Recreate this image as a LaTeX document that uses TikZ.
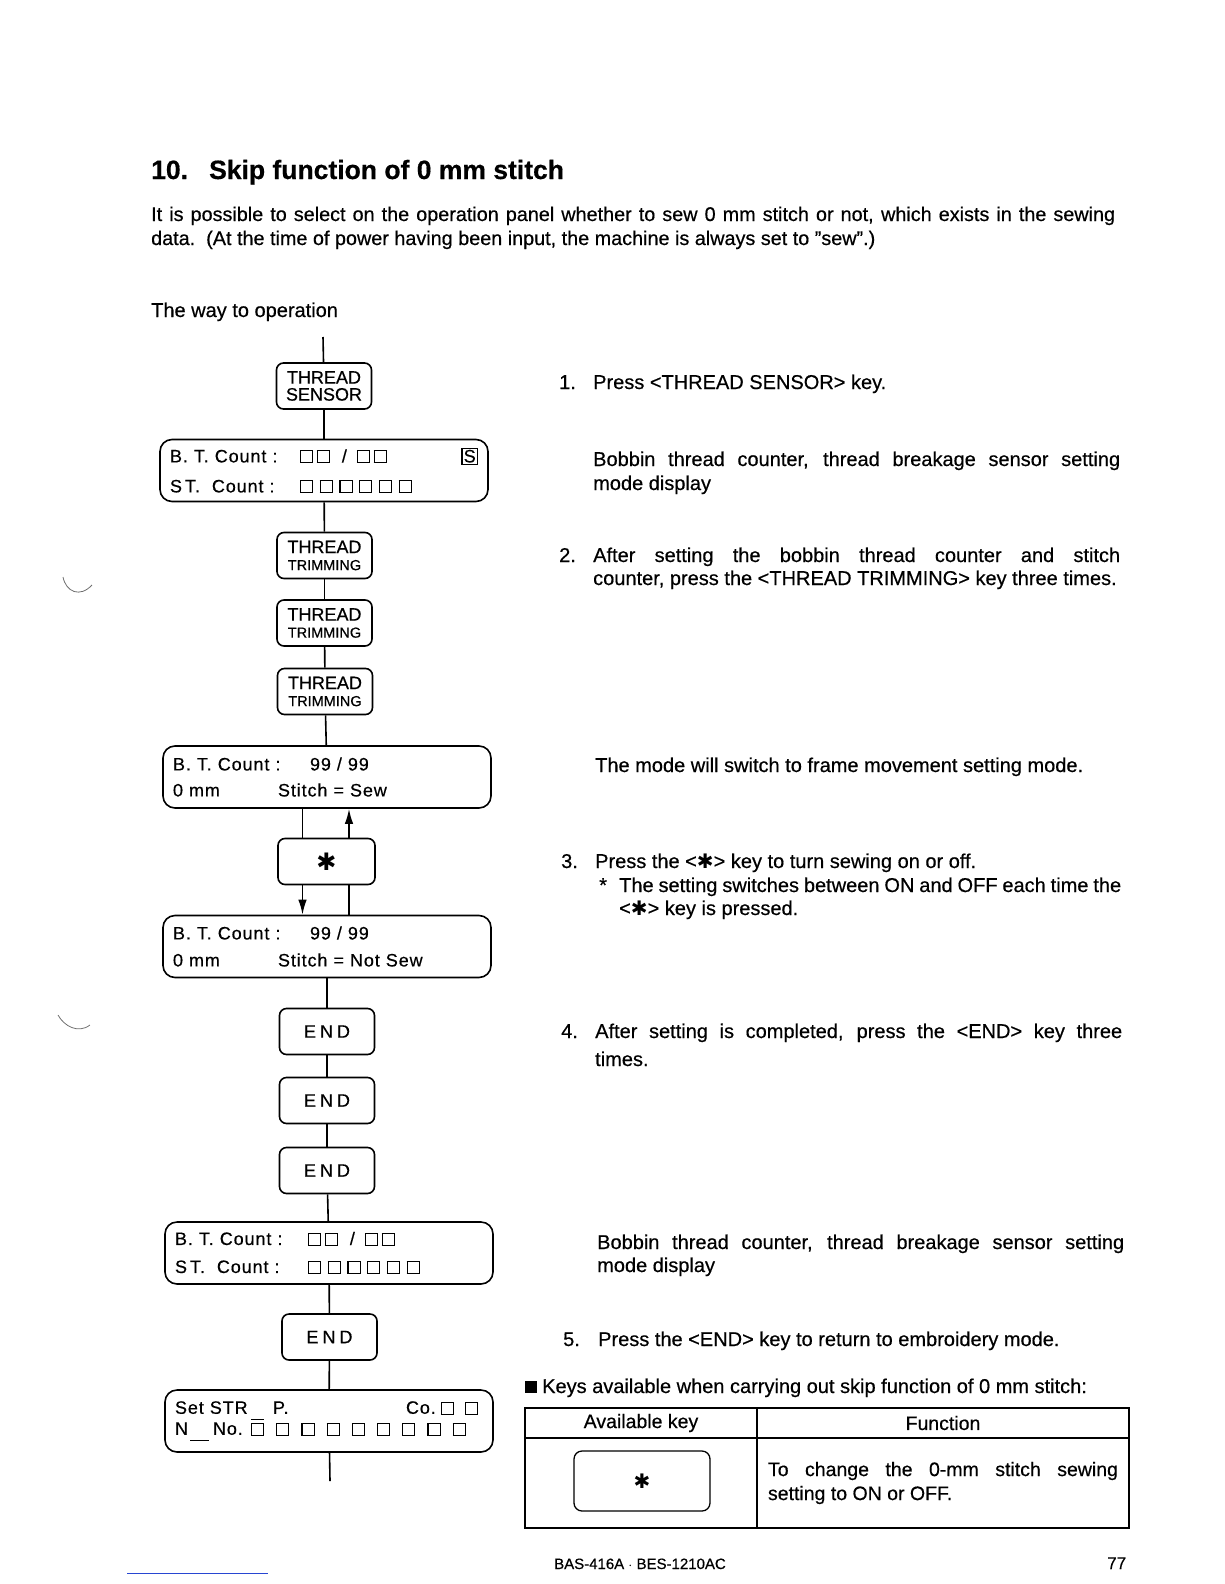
\documentclass[tikz,border=0pt]{standalone}
\usepackage{fontspec}
\setmainfont{Liberation Sans}[FakeBold=0.5]
\newfontfamily\lcdfont{Liberation Sans}[LetterSpace=5, FakeBold=0.5]
\newfontfamily\symfont{DejaVu Sans}
\usetikzlibrary{arrows.meta,positioning,calc}
\definecolor{scangray}{RGB}{110,110,110}
\definecolor{linkblue}{RGB}{40,70,210}

% little display squares, boxed S and the star key glyph
\newcommand{\dsq}{{\setlength{\fboxsep}{0pt}\setlength{\fboxrule}{1.1pt}\fbox{\rule{0pt}{11pt}\rule{11pt}{0pt}}}}
\newcommand{\boxS}{{\setlength{\fboxsep}{1pt}\setlength{\fboxrule}{1.3pt}\fbox{S}}}
\newcommand{\keystar}{{\symfont ✱}}

\begin{document}
\begin{tikzpicture}[x=1pt, y=-1pt,
    key/.style={draw, line width=1.6pt, rounded corners=7pt, minimum width=95pt,
                minimum height=46pt, inner sep=0pt, align=center,
                font=\fontsize{18}{17}\selectfont},
    disp/.style={draw, line width=1.6pt, rounded corners=12pt, minimum width=328pt,
                 minimum height=62pt, text width=308pt, inner xsep=10pt, align=left,
                 font=\lcdfont\fontsize{18}{28}\selectfont},
    link/.style={line width=1.6pt},
    arr/.style={line width=1.6pt, -{Latex[length=15pt,width=8.5pt]}},
    txt/.style={anchor=base west, inner sep=0pt, font=\fontsize{20}{24}\selectfont},
    cell/.style={draw, line width=2pt, inner sep=0pt, font=\fontsize{19.5}{24}\selectfont}
]
\useasboundingbox (0,0) rectangle (1224,1584);

% heading and intro
\node[txt, font=\bfseries\fontsize{26.5}{30}\selectfont] (title) at (151,179)
    {\makebox[58pt][l]{10.}Skip function of 0 mm stitch};
\node[txt, text width=964pt, align=justify, font=\fontsize{19.8}{24}\selectfont] (intro) at (151,221)
    {It is possible to select on the operation panel whether to sew 0 mm stitch or not, which exists in the sewing\linebreak
     data.\ \ (At the time of power having been input, the machine is always set to "sew".)};
\node[txt] (way) at (151,317) {The way to operation};

% flow of keys and displays
\coordinate (top) at (323,337);
\node[key] (sensor) at (324,386) {THREAD\\SENSOR};
\node[disp] (sensdisp) at (324,470.5)
    {\makebox[130pt][l]{B. T. Count :}\dsq\hspace{3.5pt}\dsq\hspace{12pt}/\hspace{10pt}\dsq\hspace{3.5pt}\dsq\hfill\boxS\\[2pt]
     \makebox[130pt][l]{S\,T.\ \ Count :}\dsq\hspace{6.5pt}\dsq\hspace{6.5pt}\dsq\hspace{6.5pt}\dsq\hspace{6.5pt}\dsq\hspace{6.5pt}\dsq};
\node[key] (trim1) at (324.5,555.5) {THREAD\\{\fontsize{14.5}{17}\selectfont TRIMMING}};
\node[key] (trim2) at (324.5,623) {THREAD\\{\fontsize{14.5}{17}\selectfont TRIMMING}};
\node[key] (trim3) at (325,691.5) {THREAD\\{\fontsize{14.5}{17}\selectfont TRIMMING}};
\node[disp] (sew) at (327,777)
    {\makebox[137pt][l]{B. T. Count :}99 / 99\\[-2pt]
     \makebox[105pt][l]{0 mm}Stitch = Sew};
\node[key, minimum width=97pt, font=\fontsize{24}{24}\selectfont] (star) at (326.5,861.5) {\keystar};
\node[disp] (notsew) at (327,946.5)
    {\makebox[137pt][l]{B. T. Count :}99 / 99\\[-1pt]
     \makebox[105pt][l]{0 mm}Stitch = Not Sew};
\node[key] (end1) at (327,1031.5) {E\hspace{4pt}N\hspace{4pt}D};
\node[key] (end2) at (327,1100.5) {E\hspace{4pt}N\hspace{4pt}D};
\node[key] (end3) at (327,1170.5) {E\hspace{4pt}N\hspace{4pt}D};
\node[disp] (backdisp) at (329,1253)
    {\makebox[133pt][l]{B. T. Count :}\dsq\hspace{3.5pt}\dsq\hspace{12pt}/\hspace{10pt}\dsq\hspace{3.5pt}\dsq\\
     \makebox[133pt][l]{S\,T.\ \ Count :}\dsq\hspace{6.5pt}\dsq\hspace{6.5pt}\dsq\hspace{6.5pt}\dsq\hspace{6.5pt}\dsq\hspace{6.5pt}\dsq};
\node[key] (end4) at (329.5,1337) {E\hspace{4pt}N\hspace{4pt}D};
\node[disp] (strdisp) at (329,1421)
    {\makebox[98pt][l]{Set STR}\makebox[133pt][l]{P.}\makebox[35pt][l]{Co.}\dsq\hspace{11pt}\dsq\\[-7pt]
     N\hspace{2pt}\rule[-6pt]{19pt}{1.2pt}\hspace{4pt}\makebox[38pt][l]{No.}\rlap{\rule[15pt]{13pt}{1.2pt}}\dsq
     \foreach \n in {1,...,8}{\hspace{12pt}\dsq}};
\coordinate (bot) at (330,1481);

\draw[link] (top) -- (sensor);
\draw[link] (sensor) -- (sensdisp);
\draw[link] (sensdisp) -- (trim1);
\draw[link] (trim1) -- (trim2);
\draw[link] (trim2) -- (trim3);
\draw[link] (trim3) -- (sew);
\draw[link] ([xshift=-24pt]star.north) -- ([xshift=-24pt]star.north |- sew.south);
\draw[arr] ([xshift=-24pt]star.south) -- ([xshift=-24pt]star.south |- notsew.north);
\draw[link] ([xshift=22.5pt]star.south) -- ([xshift=22.5pt]star.south |- notsew.north);
\draw[arr] ([xshift=22.5pt]star.north) -- ([xshift=22.5pt]star.north |- sew.south);
\draw[link] (notsew) -- (end1);
\draw[link] (end1) -- (end2);
\draw[link] (end2) -- (end3);
\draw[link] (end3) -- (backdisp);
\draw[link] (backdisp) -- (end4);
\draw[link] (end4) -- (strdisp);
\draw[link] (strdisp) -- (bot);

% steps on the right
\node[txt] (n1) at (559,389) {1.};
\node[txt] (s1) at (593,389) {Press <THREAD SENSOR> key.};
\node[txt, text width=527pt, align=justify] (note1) at (593,466)
    {Bobbin thread counter, thread breakage sensor setting\linebreak mode display};
\node[txt] (n2) at (559,562) {2.};
\node[txt, text width=527pt, align=justify, font=\fontsize{20}{23}\selectfont] (s2) at (593,562)
    {After setting the bobbin thread counter and stitch\linebreak counter, press the <THREAD TRIMMING> key three times.};
\node[txt] (note2) at (595,772) {The mode will switch to frame movement setting mode.};
\node[txt] (n3) at (561,868) {3.};
\node[txt] (s3) at (595,868) {Press the <\keystar> key to turn sewing on or off.};
\node[txt] (mark3) at (599,892) {*};
\node[txt, text width=502pt, align=justify, font=\fontsize{20}{23}\selectfont] (s3b) at (619,892)
    {The setting switches between ON and OFF each time the\linebreak <\keystar> key is pressed.};
\node[txt] (n4) at (561,1038) {4.};
\node[txt, text width=527pt, align=justify, font=\fontsize{20}{28}\selectfont] (s4) at (595,1038)
    {After setting is completed, press the <END> key three\linebreak times.};
\node[txt, text width=527pt, align=justify, font=\fontsize{20}{23}\selectfont] (note4) at (597,1249)
    {Bobbin thread counter, thread breakage sensor setting\linebreak mode display};
\node[txt] (n5) at (563,1346) {5.};
\node[txt] (s5) at (598,1346) {Press the <END> key to return to embroidery mode.};
\node[txt] (keys) at (525,1393) {\rule{12pt}{12pt}\hspace{5pt}Keys available when carrying out skip function of 0 mm stitch:};

% table of keys
\node[cell, minimum width=232pt, minimum height=30pt] (hkey) at (641,1423) {Available key};
\node[cell, minimum width=372pt, minimum height=30pt] (hfun) at (943,1423) {Function};
\node[cell, minimum width=232pt, minimum height=90pt] (ckey) at (641,1483) {};
\node[cell, minimum width=372pt, minimum height=90pt, text width=350pt, align=justify] (cfun) at (943,1483)
    {To change the 0-mm stitch sewing\linebreak setting to ON or OFF.};
\node[draw, line width=1.3pt, rounded corners=8pt, minimum width=136pt, minimum height=60pt,
      font=\fontsize{20}{20}\selectfont] (tabkey) at (642,1481) {\keystar};

% footer
\node[txt, font=\fontsize{15}{18}\selectfont] (foot) at (554,1569) {BAS-416A $\cdot$ BES-1210AC};
\node[txt, font=\fontsize{17}{20}\selectfont] (page) at (1107,1569) {77};

% marks of the scan
\draw[scangray, line width=0.8pt] (63,577) .. controls (66,592) and (80,598) .. (92,585);
\draw[scangray, line width=0.8pt] (58,1015) .. controls (64,1026) and (78,1034) .. (90,1025);
\draw[linkblue, line width=1pt] (127,1573) -- (268,1573);
\end{tikzpicture}
\end{document}
